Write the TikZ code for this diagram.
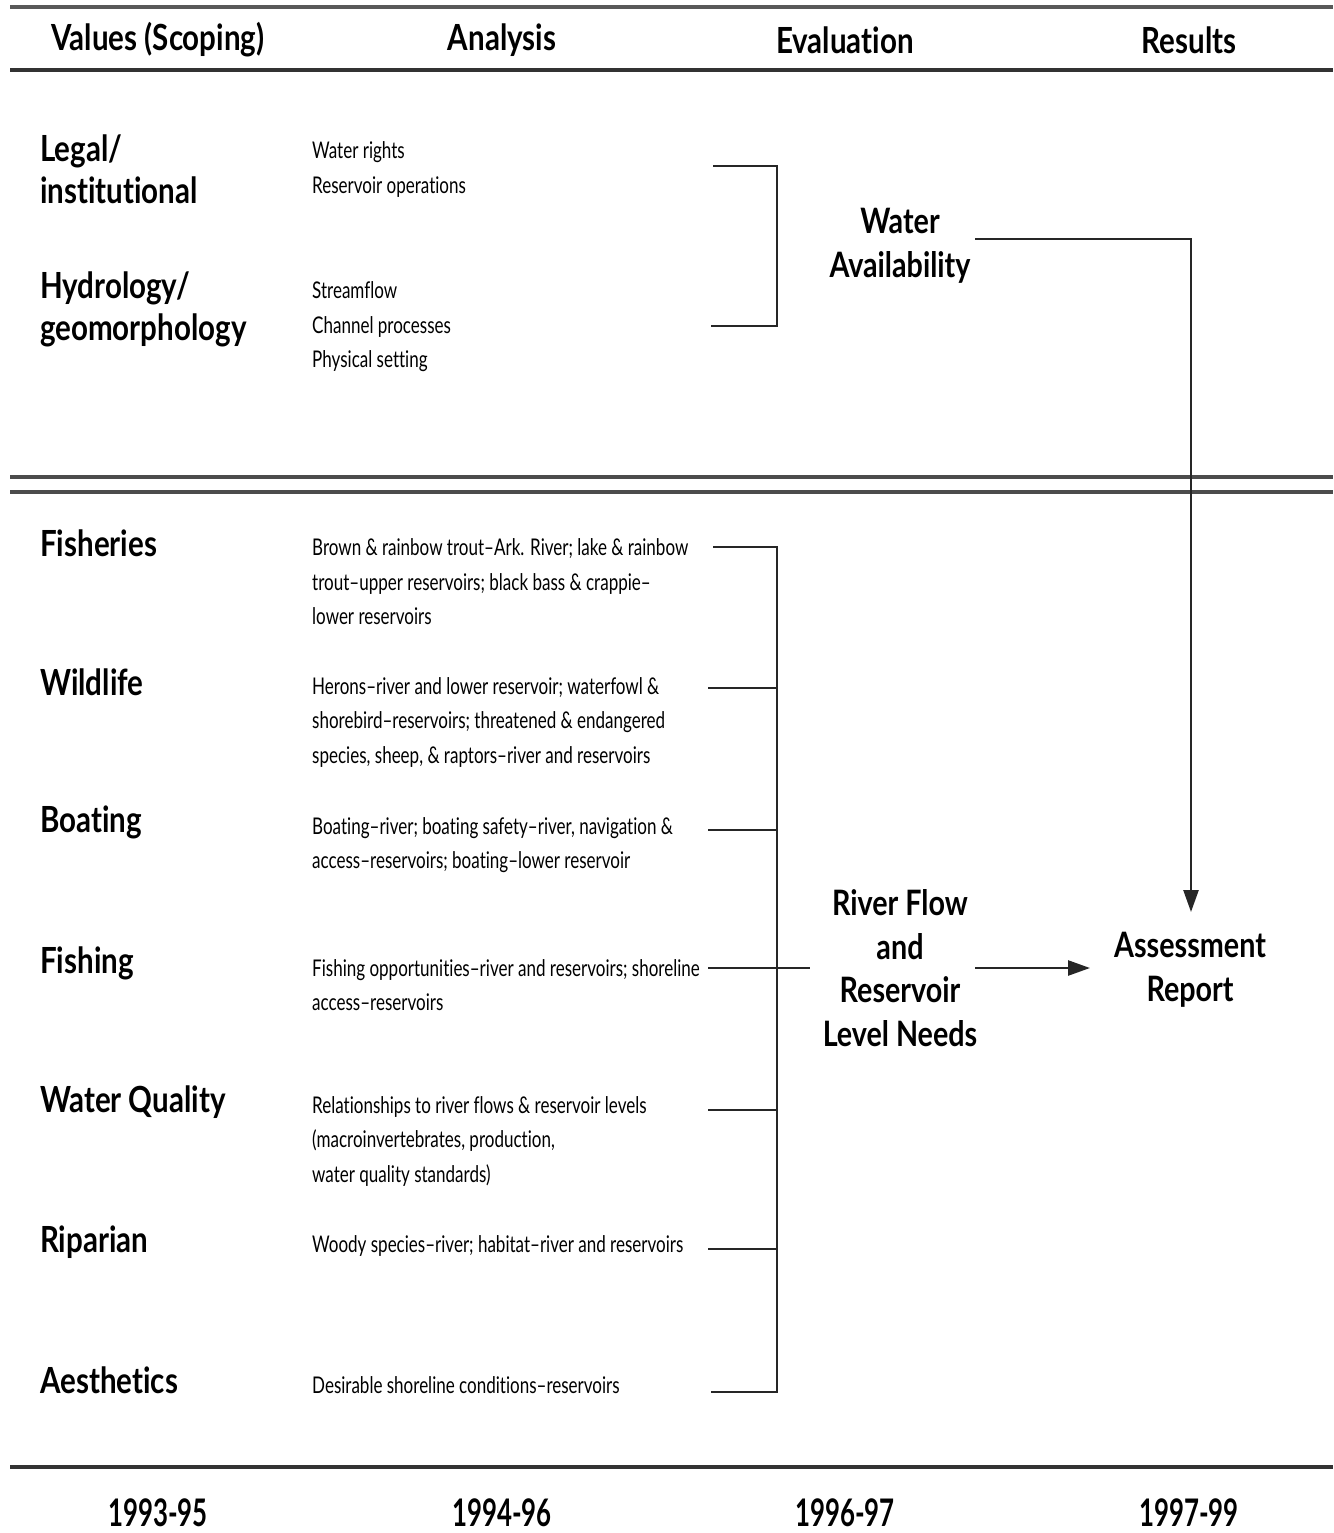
\documentclass[tikz,border=0pt]{standalone}
\usepackage{fontspec}
\usetikzlibrary{arrows.meta}
\newfontfamily\boldlab[FakeStretch=0.82,Ligatures={TeX,NoCommon}]{Lato}
\newfontfamily\yearlab[FakeStretch=0.68,Ligatures={TeX,NoCommon}]{Lato}
\newfontfamily\thinlab[FakeStretch=0.74,Ligatures={TeX,NoCommon}]{Lato}
\begin{document}
\begin{tikzpicture}[x=1pt,y=-1pt,
  hdr/.style={font=\boldlab\bfseries\fontsize{36}{40}\selectfont, inner sep=0pt, anchor=center},
  yr/.style={font=\yearlab\bfseries\fontsize{38}{40}\selectfont, inner sep=0pt, anchor=center},
  lab/.style={font=\boldlab\bfseries\fontsize{36}{42}\selectfont, inner sep=0pt, anchor=west, align=left},
  ana/.style={font=\thinlab\fontsize{23}{34.5}\selectfont, inner sep=0pt, anchor=west, align=left},
  evl/.style={font=\boldlab\bfseries\fontsize{35}{43.5}\selectfont, inner sep=0pt, anchor=center, align=center},
  rule/.style={line width=3.5pt, black!80},
  conn/.style={line width=2.5pt, black!85},
  arr/.style={conn, -{Triangle[length=22pt,width=15pt]}}]
\useasboundingbox (0,0) rectangle (1333,1533);
\fill[white] (0,0) rectangle (1333,1533);

% horizontal rules
\draw[rule, black!65] (10,7) -- (1333,7);
\draw[rule] (10,70) -- (1333,70);
\draw[rule, black!70] (10,477) -- (1333,477);
\draw[rule, black!70] (10,492) -- (1333,492);
\draw[rule] (10,1467) -- (1333,1467);

% headers
\node[hdr] (h1) at (158,40) {Values (Scoping)};
\node[hdr] (h2) at (502,40) {Analysis};
\node[hdr] (h3) at (845,40) {Evaluation};
\node[hdr] (h4) at (1189,40) {Results};

% years
\node[yr] (y1) at (158,1513) {1993-95};
\node[yr] (y2) at (502,1513) {1994-96};
\node[yr] (y3) at (845,1513) {1996-97};
\node[yr] (y4) at (1189,1513) {1997-99};

% value labels
\node[lab] (v1) at (40,169) {Legal/\\institutional};
\node[lab] (v2) at (40,309) {Hydrology/\\geomorphology};
\node[lab] (v3) at (40,543) {Fisheries};
\node[lab] (v4) at (40,682) {Wildlife};
\node[lab] (v5) at (40,822) {Boating};
\node[lab] (v6) at (40,963) {Fishing};
\node[lab] (v7) at (40,1102) {Water Quality};
\node[lab] (v8) at (40,1242) {Riparian};
\node[lab] (v9) at (40,1380) {Aesthetics};

% analysis texts
\node[ana] (a1) at (312,169.5) {Water rights\\Reservoir operations};
\node[ana] (a2) at (312,327) {Streamflow\\Channel processes\\Physical setting};
\node[ana] (a3) at (312,582) {Brown \& rainbow trout–Ark. River; lake \& rainbow\\trout–upper reservoirs; black bass \& crappie–\\lower reservoirs};
\node[ana] (a4) at (312,722) {Herons–river and lower reservoir; waterfowl \&\\shorebird–reservoirs; threatened \& endangered\\species, sheep, \& raptors–river and reservoirs};
\node[ana] (a5) at (312,845) {Boating–river; boating safety–river, navigation \&\\access–reservoirs; boating–lower reservoir};
\node[ana] (a6) at (312,985) {Fishing opportunities–river and reservoirs; shoreline\\access–reservoirs};
\node[ana] (a7) at (312,1141) {Relationships to river flows \& reservoir levels\\(macroinvertebrates, production,\\water quality standards)};
\node[ana] (a8) at (312,1246) {Woody species–river; habitat–river and reservoirs};
\node[ana] (a9) at (312,1385) {Desirable shoreline conditions–reservoirs};

% evaluation and results
\node[evl] (wa) at (900,246) {Water\\Availability};
\node[evl] (rf) at (900,968) {River Flow\\and\\Reservoir\\Level Needs};
\node[evl] (ar) at (1190,970) {Assessment\\Report};

% connector coordinates
\coordinate (t1) at (713,166);
\coordinate (t2) at (711,326);
\coordinate (tk) at (777,166);
\coordinate (tb) at (777,326);
\coordinate (l1) at (713,547);
\coordinate (l2) at (708,688);
\coordinate (l3) at (708,830);
\coordinate (l4) at (708,968);
\coordinate (l5) at (708,1110);
\coordinate (l6) at (708,1249);
\coordinate (l7) at (711,1392);
\coordinate (lt) at (777,547);
\coordinate (lb) at (777,1392);
\coordinate (rfin) at (810,968);
\coordinate (waout) at (975,239);
\coordinate (wacorner) at (1191,239);
\coordinate (artop) at (1191,912);
\coordinate (rfout) at (975,968);
\coordinate (arleft) at (1090,968);

% upper bracket
\draw[conn] (t1) -- (tk) -- (tb) -- (t2);
% lower bracket
\draw[conn] (l1) -- (lt) -- (lb) -- (l7);
\foreach \c in {l2,l3,l5,l6} \draw[conn] (\c) -- (\c -| lt);
\draw[conn] (l4) -- (rfin);

% arrows
\draw[arr] (waout) -- (wacorner) -- (artop);
\draw[arr] (rfout) -- (arleft);
\end{tikzpicture}
\end{document}
